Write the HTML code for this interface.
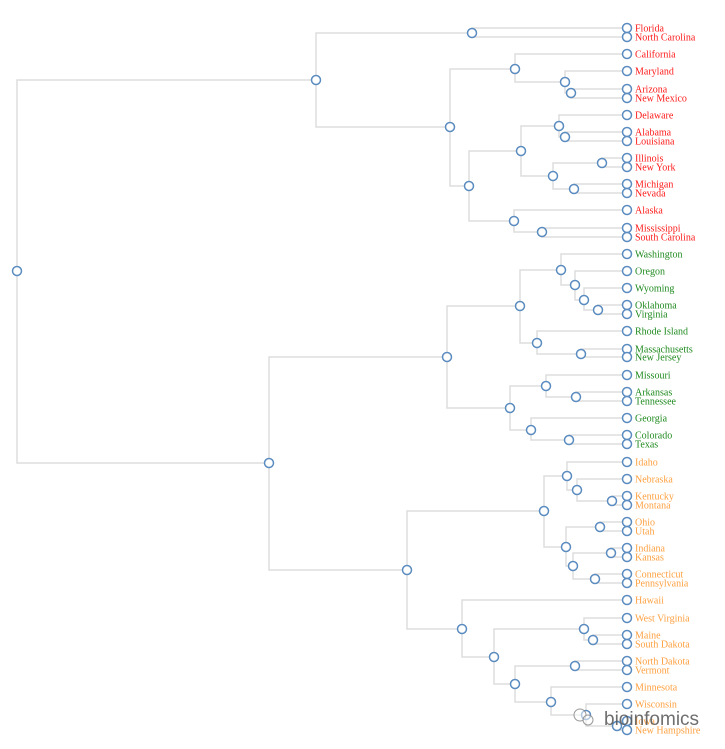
<!DOCTYPE html>
<html><head><meta charset="utf-8"><style>
html,body{margin:0;padding:0;background:#fff}
svg{display:block}
.l{fill:none;stroke:#ddd;stroke-width:1.5}
circle{fill:#fff;stroke:#5b8cc0;stroke-width:1.5}
text{font-family:"Liberation Serif",serif;font-size:10px}
.r{fill:#ff1a1a}.g{fill:#1f8a1f}.o{fill:#ffa040}
</style></head><body>
<svg width="725" height="749" viewBox="0 0 725 749">
<g class="l">
<path d="M17 271V80H316M17 271V463H269"/>
<path d="M316 80V33H472M316 80V127H450"/>
<path d="M472 33V28H627M472 33V37H627"/>
<path d="M450 127V69H515M450 127V186H469"/>
<path d="M515 69V54H627M515 69V82H565"/>
<path d="M565 82V71H627M565 82V93H571"/>
<path d="M571 93V89H627M571 93V98H627"/>
<path d="M469 186V151H521M469 186V221H514"/>
<path d="M521 151V126H559M521 151V176H553"/>
<path d="M559 126V115H627M559 126V137H565"/>
<path d="M565 137V132H627M565 137V141H627"/>
<path d="M553 176V163H602M553 176V189H574"/>
<path d="M602 163V158H627M602 163V167H627"/>
<path d="M574 189V184H627M574 189V193H627"/>
<path d="M514 221V210H627M514 221V232H542"/>
<path d="M542 232V228H627M542 232V237H627"/>
<path d="M269 463V357H447M269 463V570H407"/>
<path d="M447 357V306H520M447 357V408H510"/>
<path d="M520 306V270H561M520 306V343H537"/>
<path d="M561 270V254H627M561 270V285H575"/>
<path d="M575 285V271H627M575 285V300H584"/>
<path d="M584 300V288H627M584 300V310H598"/>
<path d="M598 310V305H627M598 310V314H627"/>
<path d="M537 343V331H627M537 343V354H581"/>
<path d="M581 354V349H627M581 354V357H627"/>
<path d="M510 408V386H546M510 408V430H531"/>
<path d="M546 386V375H627M546 386V397H576"/>
<path d="M576 397V392H627M576 397V401H627"/>
<path d="M531 430V418H627M531 430V440H569"/>
<path d="M569 440V435H627M569 440V444H627"/>
<path d="M407 570V511H544M407 570V629H462"/>
<path d="M544 511V476H567M544 511V547H566"/>
<path d="M567 476V462H627M567 476V490H577"/>
<path d="M577 490V479H627M577 490V501H612"/>
<path d="M612 501V496H627M612 501V505H627"/>
<path d="M566 547V527H600M566 547V566H573"/>
<path d="M600 527V522H627M600 527V531H627"/>
<path d="M573 566V553H611M573 566V579H595"/>
<path d="M611 553V548H627M611 553V557H627"/>
<path d="M595 579V574H627M595 579V583H627"/>
<path d="M462 629V600H627M462 629V657H494"/>
<path d="M494 657V629H584M494 657V684H515"/>
<path d="M584 629V618H627M584 629V640H593"/>
<path d="M593 640V635H627M593 640V644H627"/>
<path d="M515 684V666H575M515 684V702H551"/>
<path d="M575 666V661H627M575 666V670H627"/>
<path d="M551 702V687H627M551 702V715H586"/>
<path d="M586 715V704H627M586 715V726H617"/>
<path d="M617 726V721H627M617 726V730H627"/>
</g>
<g>
<circle cx="17" cy="271" r="4.5"/><circle cx="316" cy="80" r="4.5"/><circle cx="472" cy="33" r="4.5"/><circle cx="450" cy="127" r="4.5"/><circle cx="515" cy="69" r="4.5"/><circle cx="565" cy="82" r="4.5"/><circle cx="571" cy="93" r="4.5"/><circle cx="469" cy="186" r="4.5"/><circle cx="521" cy="151" r="4.5"/><circle cx="559" cy="126" r="4.5"/><circle cx="565" cy="137" r="4.5"/><circle cx="553" cy="176" r="4.5"/><circle cx="602" cy="163" r="4.5"/><circle cx="574" cy="189" r="4.5"/><circle cx="514" cy="221" r="4.5"/><circle cx="542" cy="232" r="4.5"/>
<circle cx="269" cy="463" r="4.5"/><circle cx="447" cy="357" r="4.5"/><circle cx="520" cy="306" r="4.5"/><circle cx="561" cy="270" r="4.5"/><circle cx="575" cy="285" r="4.5"/><circle cx="584" cy="300" r="4.5"/><circle cx="598" cy="310" r="4.5"/><circle cx="537" cy="343" r="4.5"/><circle cx="581" cy="354" r="4.5"/><circle cx="510" cy="408" r="4.5"/><circle cx="546" cy="386" r="4.5"/><circle cx="576" cy="397" r="4.5"/><circle cx="531" cy="430" r="4.5"/><circle cx="569" cy="440" r="4.5"/>
<circle cx="407" cy="570" r="4.5"/><circle cx="544" cy="511" r="4.5"/><circle cx="567" cy="476" r="4.5"/><circle cx="577" cy="490" r="4.5"/><circle cx="612" cy="501" r="4.5"/><circle cx="566" cy="547" r="4.5"/><circle cx="600" cy="527" r="4.5"/><circle cx="573" cy="566" r="4.5"/><circle cx="611" cy="553" r="4.5"/><circle cx="595" cy="579" r="4.5"/><circle cx="462" cy="629" r="4.5"/><circle cx="494" cy="657" r="4.5"/><circle cx="584" cy="629" r="4.5"/><circle cx="593" cy="640" r="4.5"/><circle cx="515" cy="684" r="4.5"/><circle cx="575" cy="666" r="4.5"/><circle cx="551" cy="702" r="4.5"/><circle cx="586" cy="715" r="4.5"/><circle cx="617" cy="726" r="4.5"/>
</g>
<g>
<circle cx="627" cy="28" r="4.5"/><circle cx="627" cy="37" r="4.5"/><circle cx="627" cy="54" r="4.5"/><circle cx="627" cy="71" r="4.5"/><circle cx="627" cy="89" r="4.5"/><circle cx="627" cy="98" r="4.5"/><circle cx="627" cy="115" r="4.5"/><circle cx="627" cy="132" r="4.5"/><circle cx="627" cy="141" r="4.5"/><circle cx="627" cy="158" r="4.5"/><circle cx="627" cy="167" r="4.5"/><circle cx="627" cy="184" r="4.5"/><circle cx="627" cy="193" r="4.5"/><circle cx="627" cy="210" r="4.5"/><circle cx="627" cy="228" r="4.5"/><circle cx="627" cy="237" r="4.5"/>
<circle cx="627" cy="254" r="4.5"/><circle cx="627" cy="271" r="4.5"/><circle cx="627" cy="288" r="4.5"/><circle cx="627" cy="305" r="4.5"/><circle cx="627" cy="314" r="4.5"/><circle cx="627" cy="331" r="4.5"/><circle cx="627" cy="349" r="4.5"/><circle cx="627" cy="357" r="4.5"/><circle cx="627" cy="375" r="4.5"/><circle cx="627" cy="392" r="4.5"/><circle cx="627" cy="401" r="4.5"/><circle cx="627" cy="418" r="4.5"/><circle cx="627" cy="435" r="4.5"/><circle cx="627" cy="444" r="4.5"/>
<circle cx="627" cy="462" r="4.5"/><circle cx="627" cy="479" r="4.5"/><circle cx="627" cy="496" r="4.5"/><circle cx="627" cy="505" r="4.5"/><circle cx="627" cy="522" r="4.5"/><circle cx="627" cy="531" r="4.5"/><circle cx="627" cy="548" r="4.5"/><circle cx="627" cy="557" r="4.5"/><circle cx="627" cy="574" r="4.5"/><circle cx="627" cy="583" r="4.5"/><circle cx="627" cy="600" r="4.5"/><circle cx="627" cy="618" r="4.5"/><circle cx="627" cy="635" r="4.5"/><circle cx="627" cy="644" r="4.5"/><circle cx="627" cy="661" r="4.5"/><circle cx="627" cy="670" r="4.5"/><circle cx="627" cy="687" r="4.5"/><circle cx="627" cy="704" r="4.5"/><circle cx="627" cy="721" r="4.5"/><circle cx="627" cy="730" r="4.5"/>
</g>
<g class="r">
<text x="635" y="31.5">Florida</text><text x="635" y="40.5">North Carolina</text><text x="635" y="57.5">California</text><text x="635" y="74.5">Maryland</text><text x="635" y="92.5">Arizona</text><text x="635" y="101.5">New Mexico</text><text x="635" y="118.5">Delaware</text><text x="635" y="135.5">Alabama</text><text x="635" y="144.5">Louisiana</text><text x="635" y="161.5">Illinois</text><text x="635" y="170.5">New York</text><text x="635" y="187.5">Michigan</text><text x="635" y="196.5">Nevada</text><text x="635" y="213.5">Alaska</text><text x="635" y="231.5">Mississippi</text><text x="635" y="240.5">South Carolina</text>
</g>
<g class="g">
<text x="635" y="257.5">Washington</text><text x="635" y="274.5">Oregon</text><text x="635" y="291.5">Wyoming</text><text x="635" y="308.5">Oklahoma</text><text x="635" y="317.5">Virginia</text><text x="635" y="334.5">Rhode Island</text><text x="635" y="352.5">Massachusetts</text><text x="635" y="360.5">New Jersey</text><text x="635" y="378.5">Missouri</text><text x="635" y="395.5">Arkansas</text><text x="635" y="404.5">Tennessee</text><text x="635" y="421.5">Georgia</text><text x="635" y="438.5">Colorado</text><text x="635" y="447.5">Texas</text>
</g>
<g class="o">
<text x="635" y="465.5">Idaho</text><text x="635" y="482.5">Nebraska</text><text x="635" y="499.5">Kentucky</text><text x="635" y="508.5">Montana</text><text x="635" y="525.5">Ohio</text><text x="635" y="534.5">Utah</text><text x="635" y="551.5">Indiana</text><text x="635" y="560.5">Kansas</text><text x="635" y="577.5">Connecticut</text><text x="635" y="586.5">Pennsylvania</text><text x="635" y="603.5">Hawaii</text><text x="635" y="621.5">West Virginia</text><text x="635" y="638.5">Maine</text><text x="635" y="647.5">South Dakota</text><text x="635" y="664.5">North Dakota</text><text x="635" y="673.5">Vermont</text><text x="635" y="690.5">Minnesota</text><text x="635" y="707.5">Wisconsin</text><text x="635" y="724.5">Iowa</text><text x="635" y="733.5">New Hampshire</text>
</g>
<g opacity="0.85">
<circle cx="580" cy="715" r="6" style="fill:rgba(255,255,255,0.6);stroke:#888;stroke-width:1"/>
<circle cx="588" cy="720" r="5" style="fill:rgba(255,255,255,0.6);stroke:#888;stroke-width:1"/>
<text x="604" y="725" style="font-family:'Liberation Sans',sans-serif;font-size:19px;fill:#555">bioinfomics</text>
</g>
</svg>
</body></html>
